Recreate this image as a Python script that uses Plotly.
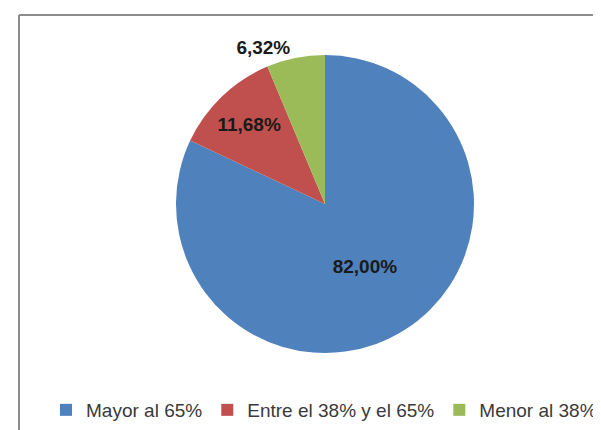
import plotly.graph_objects as go

categories = ["Mayor al 65%", "Entre el 38% y el 65%", "Menor al 38%"]
values = [82.00, 11.68, 6.32]
colors = ["#4F81BD", "#C0504D", "#9BBB59"]
label_positions = ["inside", "inside", "outside"]

W, H = 601, 430
OFF = 8  # page body margin offset

cx, cy, r = 325 - OFF, 204 - OFF, 149

fig = go.Figure(go.Pie(
    labels=categories,
    values=values,
    sort=False,
    direction="clockwise",
    rotation=0,
    marker=dict(colors=colors, line=dict(width=0)),
    texttemplate="<b>%{percent:.2%}</b>",
    textposition=label_positions,
    insidetextorientation="horizontal",
    textfont=dict(family="Liberation Sans, Arial", size=19, color="#1a1a1a"),
    domain=dict(x=[(cx - r) / W, (cx + r) / W], y=[1 - (cy + r) / H, 1 - (cy - r) / H]),
    hoverinfo="label+percent",
))

fig.update_layout(
    width=W, height=H,
    margin=dict(l=0, r=0, t=0, b=0),
    paper_bgcolor="white",
    separators=",.",
    showlegend=True,
    legend=dict(
        orientation="h",
        x=(46 - OFF) / W, xanchor="left",
        y=1 - (410 - OFF) / H, yanchor="middle",
        font=dict(family="Liberation Sans, Arial", size=19, color="#3a3a3a"),
        itemwidth=30,
        tracegroupgap=0,
    ),
    shapes=[
        dict(type="line", xref="paper", yref="paper",
             x0=(19 - OFF) / W, y0=1 - (15 - OFF) / H, x1=1.05, y1=1 - (15 - OFF) / H,
             line=dict(color="#8c8c8c", width=2)),
        dict(type="line", xref="paper", yref="paper",
             x0=(19 - OFF) / W, y0=1 - (15 - OFF) / H, x1=(19 - OFF) / W, y1=-0.05,
             line=dict(color="#8c8c8c", width=2)),
    ],
)

fig.write_html("out.html")
